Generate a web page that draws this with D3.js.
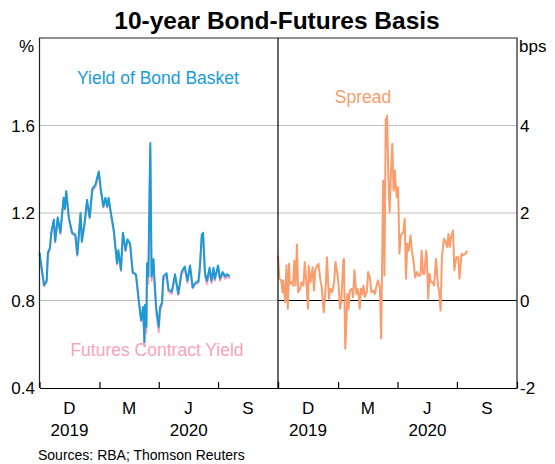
<!DOCTYPE html>
<html>
<head>
<meta charset="utf-8">
<script src="https://cdn.jsdelivr.net/npm/d3@7"></script>
<style>
  html, body { margin: 0; padding: 0; background: #fff; }
  svg text { font-family: "Liberation Sans", Arial, sans-serif; }
</style>
</head>
<body>
<svg id="chart" width="555" height="464"></svg>
<script>
// ---------- data ----------
const basketDates = ["2019-10-01","2019-10-08","2019-10-12","2019-10-14","2019-10-17","2019-10-19","2019-10-23","2019-10-25","2019-10-29","2019-11-02","2019-11-07","2019-11-09","2019-11-11","2019-11-15","2019-11-20","2019-11-25","2019-11-28","2019-12-03","2019-12-05","2019-12-09","2019-12-13","2019-12-17","2019-12-21","2019-12-26","2019-12-31","2020-01-03","2020-01-07","2020-01-10","2020-01-13","2020-01-15","2020-01-18","2020-01-23","2020-01-28","2020-01-30","2020-02-03","2020-02-06","2020-02-10","2020-02-13","2020-02-17","2020-02-21","2020-02-26","2020-03-01","2020-03-05","2020-03-08","2020-03-10","2020-03-11","2020-03-13","2020-03-14","2020-03-16","2020-03-19","2020-03-21","2020-03-23","2020-03-24","2020-03-25","2020-03-28","2020-04-01","2020-04-03","2020-04-06","2020-04-08","2020-04-13","2020-04-16","2020-04-21","2020-04-26","2020-05-01","2020-05-06","2020-05-11","2020-05-15","2020-05-19","2020-05-23","2020-05-27","2020-06-01","2020-06-03","2020-06-06","2020-06-08","2020-06-11","2020-06-14","2020-06-18","2020-06-21","2020-06-24","2020-06-26","2020-07-01","2020-07-04","2020-07-08","2020-07-12","2020-07-15","2020-07-19"];
const basketYield = [1.02,0.87,0.89,1.02,1.04,1.11,1.17,1.07,1.18,1.11,1.27,1.22,1.30,1.18,1.11,1.10,1.01,1.20,1.07,1.15,1.26,1.18,1.31,1.33,1.39,1.31,1.23,1.27,1.23,1.27,1.21,1.12,0.97,1.03,0.94,1.11,1.03,1.08,1.06,0.93,0.92,0.81,0.71,0.77,0.61,0.78,0.68,0.97,0.91,1.52,0.91,0.955,0.99,0.92,0.77,0.68,0.77,0.79,0.91,0.925,0.85,0.84,0.92,0.83,0.93,0.955,0.89,0.96,0.86,0.88,0.89,0.95,1.10,1.11,0.925,0.89,0.95,0.89,0.95,0.90,0.96,0.90,0.93,0.91,0.92,0.91];
const futuresYield = [1.01,0.865,0.885,1.01,1.035,1.10,1.165,1.065,1.175,1.105,1.26,1.215,1.295,1.175,1.105,1.095,1.005,1.19,1.065,1.145,1.25,1.175,1.30,1.32,1.385,1.30,1.225,1.26,1.225,1.265,1.205,1.115,0.965,1.025,0.935,1.105,1.025,1.075,1.055,0.925,0.915,0.805,0.705,0.76,0.59,0.76,0.65,0.93,0.875,1.49,0.89,0.93,0.965,0.895,0.745,0.655,0.755,0.775,0.895,0.91,0.84,0.83,0.91,0.825,0.92,0.945,0.88,0.955,0.855,0.875,0.88,0.94,1.09,1.10,0.91,0.875,0.935,0.88,0.935,0.89,0.95,0.89,0.92,0.90,0.91,0.90];

const spreadDates = ["2019-10-01","2019-10-03","2019-10-06","2019-10-08","2019-10-09","2019-10-12","2019-10-14","2019-10-16","2019-10-18","2019-10-19","2019-10-22","2019-10-24","2019-10-26","2019-10-28","2019-10-30","2019-11-01","2019-11-04","2019-11-06","2019-11-09","2019-11-11","2019-11-14","2019-11-16","2019-11-17","2019-11-20","2019-11-23","2019-11-25","2019-11-27","2019-11-30","2019-12-02","2019-12-05","2019-12-07","2019-12-10","2019-12-13","2019-12-15","2019-12-18","2019-12-20","2019-12-23","2019-12-26","2019-12-28","2019-12-31","2020-01-02","2020-01-04","2020-01-06","2020-01-09","2020-01-10","2020-01-12","2020-01-14","2020-01-15","2020-01-17","2020-01-19","2020-01-22","2020-01-24","2020-01-26","2020-01-29","2020-01-31","2020-02-02","2020-02-03","2020-02-05","2020-02-07","2020-02-09","2020-02-11","2020-02-14","2020-02-16","2020-02-19","2020-02-21","2020-02-24","2020-02-26","2020-02-29","2020-03-02","2020-03-05","2020-03-07","2020-03-10","2020-03-12","2020-03-14","2020-03-15","2020-03-16","2020-03-18","2020-03-20","2020-03-22","2020-03-24","2020-03-26","2020-03-28","2020-03-29","2020-03-31","2020-04-02","2020-04-04","2020-04-06","2020-04-10","2020-04-12","2020-04-14","2020-04-16","2020-04-18","2020-04-21","2020-04-23","2020-04-26","2020-04-28","2020-05-01","2020-05-03","2020-05-06","2020-05-08","2020-05-10","2020-05-12","2020-05-15","2020-05-16","2020-05-18","2020-05-20","2020-05-22","2020-05-25","2020-05-27","2020-05-30","2020-06-02","2020-06-04","2020-06-06","2020-06-08","2020-06-11","2020-06-13","2020-06-16","2020-06-18","2020-06-20","2020-06-22","2020-06-25","2020-06-27","2020-06-30","2020-07-03","2020-07-05","2020-07-08","2020-07-10","2020-07-14","2020-07-17"];
const spreadBps = [1.03,0.50,0.46,0.19,0.46,-0.04,0.80,-0.19,0.84,0.38,0.42,0.34,0.91,0.34,1.28,0.19,0.27,0.42,0.34,0.88,0.30,-0.19,0.80,0.42,0.76,0.23,0.69,0.80,0.84,0.46,0.30,-0.27,0.30,0.99,0.04,0.27,0.19,0.42,0.88,0.61,0.30,-0.19,0.00,0.91,0.95,-1.10,-0.38,0.15,-0.19,0.23,0.27,0.08,0.69,0.15,0.27,0.08,-0.19,0.27,0.15,0.34,0.08,0.19,0.65,0.50,0.19,0.23,0.15,0.34,0.46,0.30,-0.87,2.74,0.57,4.15,3.50,4.23,2.82,2.02,2.93,3.58,2.51,2.97,2.67,2.36,2.59,1.07,1.49,1.56,1.87,0.50,1.30,1.14,1.49,1.14,0.84,0.53,0.65,0.57,0.57,1.14,0.61,0.61,1.14,0.99,0.04,0.61,0.42,0.42,0.34,0.95,0.34,0.19,-0.23,0.99,1.41,1.37,1.22,1.52,1.22,1.45,1.60,0.69,0.99,0.99,0.50,1.07,1.03,1.07,1.14];

const leftTicks = [0.4, 0.8, 1.2, 1.6];
const rightTicks = [-2, 0, 2, 4];
const quarterTicks = ["2019-10-01","2020-01-01","2020-04-01","2020-07-01","2020-10-01"];
const monthLabels = ["D","M","J","S"];
const yearLabels = [{label:"2019", from:"2019-10-01", to:"2020-01-01"}, {label:"2020", from:"2020-01-01", to:"2020-10-01"}];

// ---------- layout ----------
const parse = d3.timeParse("%Y-%m-%d");
const L = 39.5, M = 278, R = 517, T = 38, B = 388;
const colBlue = "#1a9bd7", colPink = "#f8a3bb", colOrange = "#fa9c6b";

const svg = d3.select("#chart");
const domainX = [parse("2019-10-01"), parse("2020-10-01")];
const xL = d3.scaleTime().domain(domainX).range([L, M]);
const xR = d3.scaleTime().domain(domainX).range([M, R]);
const yL = d3.scaleLinear().domain([0.4, 2.0]).range([B, T]);
const yR = d3.scaleLinear().domain([-2, 6]).range([B, T]);

// gridlines
svg.append("g").selectAll("line").data(leftTicks.filter(v => v > 0.4))
  .join("line").attr("x1", L).attr("x2", R)
  .attr("y1", d => yL(d)).attr("y2", d => yL(d))
  .attr("stroke", "#bdbdbd").attr("stroke-width", 1);

// zero line right panel
svg.append("line").attr("x1", M).attr("x2", R).attr("y1", yR(0)).attr("y2", yR(0))
  .attr("stroke", "#000").attr("stroke-width", 1.2);

// lines
const basket = basketDates.map((d, i) => ({date: parse(d), v: basketYield[i]}));
const futures = basketDates.map((d, i) => ({date: parse(d), v: futuresYield[i]}));
const spread = spreadDates.map((d, i) => ({date: parse(d), v: spreadBps[i]}));

const lineL = d3.line().x(d => xL(d.date)).y(d => yL(d.v));
const lineR = d3.line().x(d => xR(d.date)).y(d => yR(d.v));

svg.append("path").datum(futures).attr("d", lineL).attr("fill", "none")
  .attr("stroke", colPink).attr("stroke-width", 2).attr("stroke-linejoin", "round");
svg.append("path").datum(basket).attr("d", lineL).attr("fill", "none")
  .attr("stroke", colBlue).attr("stroke-width", 2).attr("stroke-linejoin", "round");
svg.append("path").datum(spread).attr("d", lineR).attr("fill", "none")
  .attr("stroke", colOrange).attr("stroke-width", 2).attr("stroke-linejoin", "round");

// frame
const frame = svg.append("g").attr("stroke", "#222").attr("stroke-width", 1.2).attr("fill", "none");
frame.append("path").attr("d", `M${L},${B}V${T}H${R}V${B}`);
frame.append("line").attr("x1", M).attr("x2", M).attr("y1", T).attr("y2", B).attr("stroke", "#000");

// bottom axes (ticks pointing up)
const qTicks = quarterTicks.map(parse);
[xL, xR].forEach(x => {
  const g = svg.append("g").attr("transform", `translate(0,${B})`)
    .call(d3.axisBottom(x).tickValues(qTicks).tickSize(-6).tickSizeOuter(0).tickFormat(""));
  g.select(".domain").attr("stroke", "#000").attr("stroke-width", 1.2);
  g.selectAll(".tick line").attr("stroke", "#000").attr("stroke-width", 1.2);

  for (let i = 0; i < monthLabels.length; i++) {
    const mid = new Date((qTicks[i].getTime() + qTicks[i + 1].getTime()) / 2);
    svg.append("text").attr("x", x(mid)).attr("y", 414).attr("text-anchor", "middle")
      .attr("font-size", 17).attr("fill", "#000").text(monthLabels[i]);
  }
  yearLabels.forEach(yl => {
    const mid = new Date((parse(yl.from).getTime() + parse(yl.to).getTime()) / 2);
    svg.append("text").attr("x", x(mid)).attr("y", 436).attr("text-anchor", "middle")
      .attr("font-size", 17).attr("fill", "#000").text(yl.label);
  });
});

// y tick labels
svg.append("g").selectAll("text").data(leftTicks).join("text")
  .attr("x", 35).attr("y", d => yL(d) + 6).attr("text-anchor", "end")
  .attr("font-size", 17).text(d => d3.format(".1f")(d));
svg.append("g").selectAll("text").data(rightTicks).join("text")
  .attr("x", 520).attr("y", d => yR(d) + 6).attr("text-anchor", "start")
  .attr("font-size", 17).text(d => d);

svg.append("text").attr("x", 34).attr("y", 52).attr("text-anchor", "end").attr("font-size", 17).text("%");
svg.append("text").attr("x", 519).attr("y", 52).attr("text-anchor", "start").attr("font-size", 17).text("bps");

// title
svg.append("text").attr("x", 277).attr("y", 29).attr("text-anchor", "middle")
  .attr("font-size", 24.5).attr("font-weight", "bold").text("10-year Bond-Futures Basis");

// series labels
svg.append("text").attr("x", 158).attr("y", 84).attr("text-anchor", "middle")
  .attr("font-size", 17.5).attr("fill", colBlue).text("Yield of Bond Basket");
svg.append("text").attr("x", 363).attr("y", 103).attr("text-anchor", "middle")
  .attr("font-size", 17.5).attr("fill", colOrange).text("Spread");
svg.append("text").attr("x", 157).attr("y", 356).attr("text-anchor", "middle")
  .attr("font-size", 17.5).attr("fill", colPink).text("Futures Contract Yield");

// source
svg.append("text").attr("x", 38).attr("y", 460).attr("font-size", 14).text("Sources: RBA; Thomson Reuters");
</script>
</body>
</html>
